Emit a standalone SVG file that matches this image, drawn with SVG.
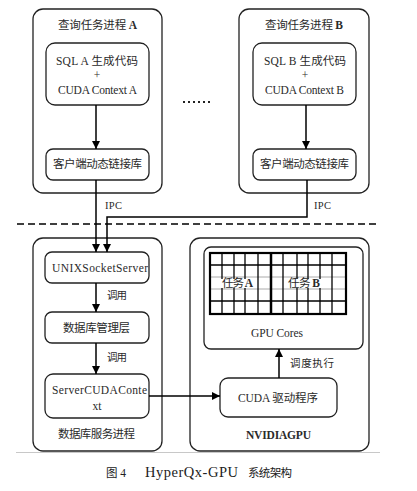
<svg xmlns="http://www.w3.org/2000/svg" width="417" height="491" viewBox="0 0 417 491">
<style>
.box{fill:none;stroke:#222;stroke-width:1.3}
.t{font-family:"Liberation Serif","Noto Sans CJK SC",serif;font-size:11.5px;fill:#2a2a2a}
.m{text-anchor:middle}
.l{font-family:"Liberation Serif","Noto Sans CJK SC",serif;font-size:10.5px;fill:#2a2a2a}
.b{font-weight:bold}
.c{fill:none;stroke:#000;stroke-width:1.5}
.g{stroke:#000;stroke-width:1.3}
.gl{stroke:#aaa;stroke-width:1}
</style>
<defs>
<marker id="ah" markerWidth="8" markerHeight="8" viewBox="0 0 10 10" refX="10" refY="5" orient="auto" markerUnits="userSpaceOnUse">
<path d="M0,0 L10,5 L0,10 z" fill="#000"/>
</marker>
</defs>
<rect width="417" height="491" fill="#fff"/>

<g id="procA">
<rect class="box" x="33" y="9" width="129" height="184" rx="10"/>
<text class="t" x="58" y="29" textLength="79" lengthAdjust="spacing">查询任务进程 <tspan class="b">A</tspan></text>
</g>
<g id="sqlA">
<rect class="box" x="46" y="43" width="103" height="62" rx="9"/>
<text class="t" x="56" y="65" textLength="82" lengthAdjust="spacing">SQL A 生成代码</text>
<text class="t m" x="97" y="79">+</text>
<text class="t" x="58" y="94" textLength="79" lengthAdjust="spacing">CUDA Context A</text>
</g>
<g id="clientA">
<rect class="box" x="46" y="149" width="103" height="31" rx="7"/>
<text class="t" x="53" y="168" textLength="89" lengthAdjust="spacing">客户端动态链接库</text>
</g>

<g id="procB">
<rect class="box" x="239" y="9" width="130" height="184" rx="10"/>
<text class="t" x="265" y="29" textLength="78" lengthAdjust="spacing">查询任务进程 <tspan class="b">B</tspan></text>
</g>
<g id="sqlB">
<rect class="box" x="253" y="43" width="103" height="62" rx="9"/>
<text class="t" x="264" y="65" textLength="82" lengthAdjust="spacing">SQL B 生成代码</text>
<text class="t m" x="305" y="79">+</text>
<text class="t" x="265" y="94" textLength="79" lengthAdjust="spacing">CUDA Context B</text>
</g>
<g id="clientB">
<rect class="box" x="253" y="149" width="103" height="31" rx="7"/>
<text class="t" x="260" y="168" textLength="89" lengthAdjust="spacing">客户端动态链接库</text>
</g>

<g id="dots" fill="#222">
<rect x="183" y="101" width="2" height="2"/>
<rect x="188" y="101" width="2" height="2"/>
<rect x="193" y="101" width="2" height="2"/>
<rect x="198" y="101" width="2" height="2"/>
<rect x="203" y="101" width="2" height="2"/>
<rect x="208" y="101" width="2" height="2"/>
</g>

<line x1="17" y1="224" x2="378" y2="224" stroke="#000" stroke-width="1.5" stroke-dasharray="7,4"/>

<g id="dbproc">
<rect class="box" x="33" y="238" width="129" height="213" rx="10"/>
<text class="t" x="58" y="438" textLength="77" lengthAdjust="spacing">数据库服务进程</text>
</g>
<g id="unix">
<rect class="box" x="45" y="252" width="104" height="31" rx="7"/>
<text class="t" x="52" y="272" textLength="96" lengthAdjust="spacing">UNIXSocketServer</text>
</g>
<g id="dbmgr">
<rect class="box" x="45" y="312" width="104" height="31" rx="7"/>
<text class="t" x="63" y="332" textLength="67" lengthAdjust="spacing">数据库管理层</text>
</g>
<g id="scc">
<rect class="box" x="45" y="374" width="104" height="44" rx="8"/>
<text class="t" x="52" y="394" textLength="95" lengthAdjust="spacing">ServerCUDAConte</text>
<text class="t m" x="97" y="410">xt</text>
</g>

<g id="gpu">
<rect class="box" x="190" y="238" width="179" height="213" rx="10"/>
<text class="t b" x="246" y="439" textLength="65" lengthAdjust="spacing">NVIDIAGPU</text>
</g>
<g id="cores">
<rect class="box" x="204" y="247" width="159" height="102" rx="7"/>
<g class="gl">
<line x1="210" y1="277" x2="346" y2="277"/>
<line x1="210" y1="289" x2="346" y2="289"/>
</g>
<g class="g">
<line x1="222" y1="253" x2="222" y2="314"/>
<line x1="234" y1="253" x2="234" y2="314"/>
<line x1="245" y1="253" x2="245" y2="314"/>
<line x1="258" y1="253" x2="258" y2="314"/>
<line x1="283" y1="253" x2="283" y2="314"/>
<line x1="297" y1="253" x2="297" y2="314"/>
<line x1="308" y1="253" x2="308" y2="314"/>
<line x1="320" y1="253" x2="320" y2="314"/>
<line x1="332" y1="253" x2="332" y2="314"/>
<line x1="210" y1="265" x2="346" y2="265"/>
<line x1="210" y1="301" x2="346" y2="301"/>
</g>
<rect x="221" y="279" width="34" height="9" fill="#fff"/>
<rect x="287" y="279" width="34" height="9" fill="#fff"/>
<text class="t" x="222" y="287" fill="#555" textLength="31" lengthAdjust="spacing">任务 <tspan class="b">A</tspan></text>
<text class="t" x="288" y="287" fill="#555" textLength="32" lengthAdjust="spacing">任务 <tspan class="b">B</tspan></text>
<rect x="210" y="253" width="136" height="61" fill="none" stroke="#000" stroke-width="2.2"/>
<line x1="271" y1="253" x2="271" y2="314" stroke="#000" stroke-width="2.5"/>
<text class="t" x="251" y="337" textLength="52" lengthAdjust="spacing">GPU Cores</text>
</g>
<g id="driver">
<rect class="box" x="220" y="378" width="117" height="39" rx="8"/>
<text class="t" x="238" y="402" textLength="80" lengthAdjust="spacing">CUDA 驱动程序</text>
</g>

<g id="connectors">
<line class="c" x1="96" y1="105" x2="96" y2="149" marker-end="url(#ah)"/>
<line class="c" x1="306" y1="105" x2="306" y2="149" marker-end="url(#ah)"/>
<line class="c" x1="96" y1="180" x2="96" y2="252" marker-end="url(#ah)"/>
<polyline class="c" points="307,180 307,217 107,217 107,252" marker-end="url(#ah)"/>
<line class="c" x1="96" y1="283" x2="96" y2="312" marker-end="url(#ah)"/>
<line class="c" x1="96" y1="343" x2="96" y2="374" marker-end="url(#ah)"/>
<line class="c" x1="149" y1="396" x2="220" y2="396" marker-end="url(#ah)"/>
<line class="c" x1="279" y1="378" x2="279" y2="349" marker-end="url(#ah)"/>
<text class="l" x="105" y="209" textLength="17" lengthAdjust="spacing">IPC</text>
<text class="l" x="314" y="209" textLength="17" lengthAdjust="spacing">IPC</text>
<text class="l" x="107" y="299" textLength="20" lengthAdjust="spacing">调用</text>
<text class="l" x="107" y="361" textLength="20" lengthAdjust="spacing">调用</text>
<text class="l" x="290" y="367" textLength="44" lengthAdjust="spacing">调度执行</text>
</g>

<line x1="16" y1="452.5" x2="380" y2="452.5" stroke="#c8c8c8" stroke-width="1"/>
<g font-family="'Liberation Serif','Noto Sans CJK SC',serif" fill="#222">
<text x="106" y="477" font-size="11.5">图 4</text>
<text x="145" y="477" font-size="14.5" textLength="93" lengthAdjust="spacing">HyperQx-GPU</text>
<text x="248" y="477" font-size="11.5" textLength="44" lengthAdjust="spacing">系统架构</text>
</g>
</svg>
